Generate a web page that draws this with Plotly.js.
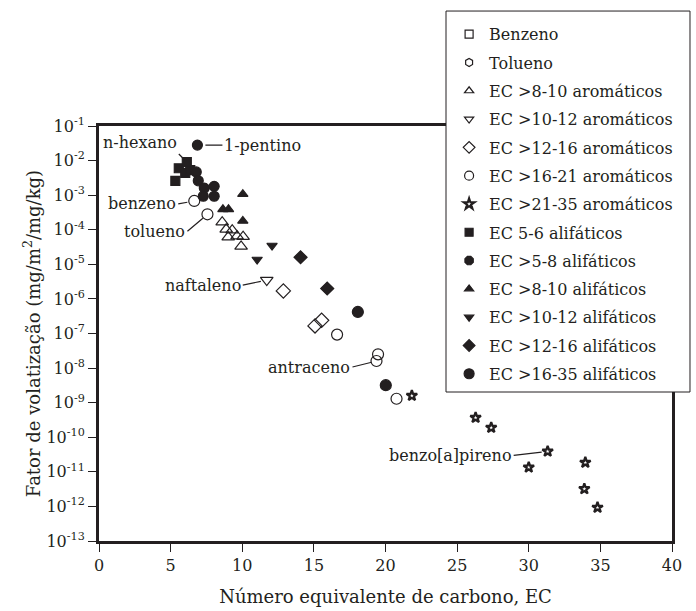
<!DOCTYPE html>
<html><head><meta charset="utf-8">
<script src="https://cdn.plot.ly/plotly-3.0.1.min.js"></script>
<style>body{margin:0;background:#fff}#chart{width:696px;height:611px}</style>
</head><body><div id="chart"></div>
<script>
// ---- data (EC, volatilization factor) ----
const benzenoEC = [6.65];   const benzenoVF = [6.8e-4];
const toluenoEC = [7.57];   const toluenoVF = [2.8e-4];
const aro8_10EC  = [8.60, 8.88, 9.30, 9.02, 9.64, 10.06, 9.92];
const aro8_10VF  = [1.66e-4, 1.03e-4, 9.7e-5, 6.1e-5, 6.5e-5, 6.3e-5, 3.3e-5];
const aro10_12EC = [11.71]; const aro10_12VF = [3.5e-6];
const aro12_16EC = [12.87, 15.08, 15.54];
const aro12_16VF = [1.7e-6, 1.66e-7, 2.4e-7];
const aro16_21EC = [16.62, 19.48, 19.37, 20.77];
const aro16_21VF = [9.3e-8, 2.5e-8, 1.6e-8, 1.3e-9];
const aro21_35EC = [21.84, 26.29, 27.38, 31.32, 30.0, 33.95, 33.88, 34.8];
const aro21_35VF = [1.6e-9, 3.7e-10, 1.9e-10, 3.9e-11, 1.35e-11, 1.86e-11, 3.2e-12, 9.3e-13];
const ali5_6EC   = [5.33, 5.57, 6.13, 6.02, 6.37];
const ali5_6VF   = [2.6e-3, 6.0e-3, 9.1e-3, 4.4e-3, 5.3e-3];
const ali5_8EC   = [6.87, 6.79, 6.93, 7.35, 8.04, 8.04, 7.28];
const ali5_8VF   = [2.8e-2, 4.7e-3, 2.6e-3, 1.6e-3, 1.8e-3, 9.3e-4, 9.3e-4];
const ali8_10EC  = [10.04, 8.65, 9.04, 10.04];
const ali8_10VF  = [1.07e-3, 3.9e-4, 3.9e-4, 1.8e-4];
const ali10_12EC = [11.04, 12.08]; const ali10_12VF = [1.38e-5, 3.5e-5];
const ali12_16EC = [14.07, 15.93]; const ali12_16VF = [1.6e-5, 2.0e-6];
const ali16_35EC = [18.07, 20.02]; const ali16_35VF = [4.2e-7, 3.2e-9];

const seriesNames = ['Benzeno','Tolueno','EC >8-10 aromáticos','EC >10-12 aromáticos',
  'EC >12-16 aromáticos','EC >16-21 aromáticos','EC >21-35 aromáticos','EC 5-6 alifáticos',
  'EC >5-8 alifáticos','EC >8-10 alifáticos','EC >10-12 alifáticos','EC >12-16 alifáticos',
  'EC >16-35 alifáticos'];
const seriesX = [benzenoEC, toluenoEC, aro8_10EC, aro10_12EC, aro12_16EC, aro16_21EC, aro21_35EC,
  ali5_6EC, ali5_8EC, ali8_10EC, ali10_12EC, ali12_16EC, ali16_35EC];
const seriesY = [benzenoVF, toluenoVF, aro8_10VF, aro10_12VF, aro12_16VF, aro16_21VF, aro21_35VF,
  ali5_6VF, ali5_8VF, ali8_10VF, ali10_12VF, ali12_16VF, ali16_35VF];

const yTickVals = [1e-1,1e-2,1e-3,1e-4,1e-5,1e-6,1e-7,1e-8,1e-9,1e-10,1e-11,1e-12,1e-13];
const yTickText = ['10<sup>-1</sup>','10<sup>-2</sup>','10<sup>-3</sup>','10<sup>-4</sup>','10<sup>-5</sup>',
  '10<sup>-6</sup>','10<sup>-7</sup>','10<sup>-8</sup>','10<sup>-9</sup>','10<sup>-10</sup>',
  '10<sup>-11</sup>','10<sup>-12</sup>','10<sup>-13</sup>'];

const annLabels = ['n-hexano','1-pentino','benzeno','tolueno','naftaleno','antraceno','benzo[a]pireno'];

const INK = '#231f20';
const FONT = 'DejaVu Serif, serif';

// marker styles: [plot symbol, plot size, legend symbol, legend size, line width]
const styles = [
  ['circle-open', 11, 'square-open', 8, 1.2],
  ['circle-open', 11, 'hexagon-open', 8, 1.2],
  ['triangle-up-open', 11, 'triangle-up-open', 8, 1.2],
  ['triangle-down-open', 11, 'triangle-down-open', 8, 1.2],
  ['diamond-open', 11, 'diamond-open', 9, 1.2],
  ['circle-open', 11, 'circle-open', 9, 1.2],
  ['star-open', 8, 'star-open', 8, 2.2],
  ['square', 9, 'square', 8, 1.2],
  ['circle', 10, 'octagon', 9, 1.2],
  ['triangle-up', 9, 'triangle-up', 8, 1.2],
  ['triangle-down', 9, 'triangle-down', 8, 1.2],
  ['diamond', 10, 'diamond', 9, 1.2],
  ['circle', 11, 'circle', 10, 1.2]
];

const data = [];
seriesNames.forEach((name, i) => {
  const st = styles[i];
  // legend entry (small glyph like the reference legend)
  data.push({type: 'scatter', mode: 'markers', name: name, x: [null], y: [null],
    legendgroup: 'g' + i, showlegend: true,
    marker: {symbol: st[2], size: st[3], color: INK, line: {color: INK, width: st[4]}}});
  // plotted points
  data.push({type: 'scatter', mode: 'markers', name: name, x: seriesX[i], y: seriesY[i],
    legendgroup: 'g' + i, showlegend: false, cliponaxis: false,
    marker: {symbol: st[0], size: st[1], color: INK, line: {color: INK, width: st[4]}}});
});

// annotation anchors: [label index, series index, point index, ax, ay, xanchor, yanchor, standoff]
const annSpec = [
  [0, 7, 2, -8, -8, 'right', 'bottom', 6],
  [1, 8, 0, 25, 0, 'left', 'middle', 8],
  [2, 0, 0, -16, 3, 'right', 'middle', 7],
  [3, 1, 0, -20, 17, 'right', 'middle', 6],
  [4, 3, 0, -24, 5, 'right', 'middle', 6],
  [5, 5, 2, -24, 6, 'right', 'middle', 5],
  [6, 6, 3, -34, 4, 'right', 'middle', 6]
];
const annotations = annSpec.map(s => ({
  text: annLabels[s[0]], x: seriesX[s[1]][s[2]], y: Math.log10(seriesY[s[1]][s[2]]),
  xref: 'x', yref: 'y',
  showarrow: true, arrowhead: 0, arrowwidth: 1.2, arrowcolor: INK,
  ax: s[3], ay: s[4], xanchor: s[5], yanchor: s[6], standoff: s[7], borderpad: 1,
  font: {family: FONT, size: 16, color: INK}
}));

const layout = {
  width: 696, height: 611,
  margin: {l: 99, r: 24, t: 126, b: 70},
  paper_bgcolor: '#fff', plot_bgcolor: '#fff',
  font: {family: FONT, size: 16, color: INK},
  showlegend: true,
  legend: {
    x: 0.611, xanchor: 'left', y: 1.262, yanchor: 'top',
    bgcolor: 'rgba(0,0,0,0)', borderwidth: 0, maxheight: 600,
    traceorder: 'grouped', tracegroupgap: 4.5,
    font: {family: FONT, size: 16, color: INK}
  },
  xaxis: {
    range: [0, 40], tickmode: 'linear', tick0: 0, dtick: 5,
    ticks: 'outside', ticklen: 8, tickwidth: 1, tickcolor: INK,
    showgrid: false, zeroline: false,
    showline: true, linewidth: 3, linecolor: INK, mirror: true,
    tickfont: {family: FONT, size: 16, color: INK},
    title: {text: 'Número equivalente de carbono, EC', font: {family: FONT, size: 18, color: INK}, standoff: 17}
  },
  yaxis: {
    type: 'log', range: [-13, -1], tickvals: yTickVals, ticktext: yTickText,
    ticks: 'outside', ticklen: 8, tickwidth: 1, tickcolor: INK,
    showgrid: false, zeroline: false,
    showline: true, linewidth: 3, linecolor: INK, mirror: true,
    tickfont: {family: FONT, size: 16, color: INK},
    title: {text: 'Fator de volatização (mg/m<sup>2</sup>/mg/kg)', font: {family: FONT, size: 18, color: INK}, standoff: 2}
  },
  shapes: [{
    type: 'rect', xref: 'paper', yref: 'paper', layer: 'above',
    x0: 0.6056, x1: 1.0314, y0: 0.359, y1: 1.277,
    fillcolor: '#fff', line: {color: INK, width: 1}
  }],
  annotations: annotations
};

Plotly.newPlot('chart', data, layout, {displayModeBar: false, staticPlot: true});
</script></body></html>
